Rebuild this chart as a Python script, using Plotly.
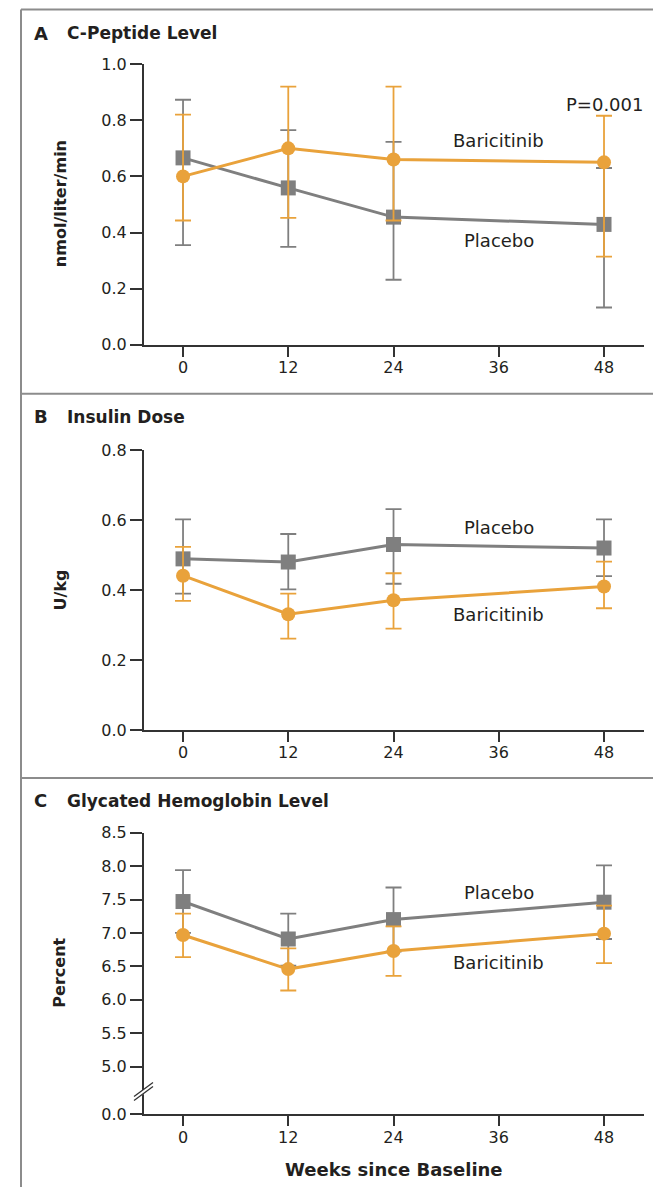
import plotly.graph_objects as go

# ---- data -------------------------------------------------------------
weeks = [0, 12, 24, 48]
x_ticks = [0, 12, 24, 36, 48]

# C-peptide level (nmol/liter/min)
cpep_bari = [0.60, 0.70, 0.66, 0.65]
cpep_bari_hi = [0.82, 0.92, 0.92, 0.816]
cpep_bari_lo = [0.443, 0.452, 0.443, 0.314]
cpep_plac = [0.666, 0.559, 0.455, 0.429]
cpep_plac_hi = [0.873, 0.765, 0.723, 0.63]
cpep_plac_lo = [0.355, 0.349, 0.232, 0.133]

# Insulin dose (U/kg)
ins_bari = [0.441, 0.331, 0.371, 0.41]
ins_bari_hi = [0.523, 0.39, 0.448, 0.481]
ins_bari_lo = [0.369, 0.261, 0.29, 0.348]
ins_plac = [0.489, 0.48, 0.53, 0.52]
ins_plac_hi = [0.602, 0.56, 0.631, 0.602]
ins_plac_lo = [0.39, 0.402, 0.418, 0.44]

# Glycated hemoglobin (percent)
hba_bari = [6.97, 6.46, 6.73, 6.99]
hba_bari_hi = [7.29, 6.77, 7.10, 7.41]
hba_bari_lo = [6.64, 6.14, 6.36, 6.55]
hba_plac = [7.47, 6.91, 7.20, 7.46]
hba_plac_hi = [7.94, 7.29, 7.68, 8.01]
hba_plac_lo = [7.00, 6.51, 6.72, 6.91]

cpep_ticks = [0.0, 0.2, 0.4, 0.6, 0.8, 1.0]
ins_ticks = [0.0, 0.2, 0.4, 0.6, 0.8]
# broken axis: the "0.0" label sits just below the break
hba_tickvals = [4.288, 5.0, 5.5, 6.0, 6.5, 7.0, 7.5, 8.0, 8.5]
hba_ticktext = ["0.0", "5.0", "5.5", "6.0", "6.5", "7.0", "7.5", "8.0", "8.5"]

p_value_text = "P=0.001"

# ---- styling ----------------------------------------------------------
W, H = 653, 1197
ORANGE = "#E9A23B"
GRAY = "#7F7F7F"
AXIS = "#333333"
TEXT = "#231F20"
FRAME = "#8C8C8C"
FONT = "DejaVu Sans"

# the page is shown with a small top inset and slight vertical shrink;
# layout positions below are given in on-screen pixels
Y_SCALE, Y_OFFSET = 0.986, 7.5


def px(x):
    return x / W


def py(y):
    return 1 - ((y - Y_OFFSET) / Y_SCALE) / H


fig = go.Figure()


def add_pair(xa, ya, plac, plac_hi, plac_lo, bari, bari_hi, bari_lo):
    for vals, hi, lo, color, symbol, name in [
        (plac, plac_hi, plac_lo, GRAY, "square", "Placebo"),
        (bari, bari_hi, bari_lo, ORANGE, "circle", "Baricitinib"),
    ]:
        fig.add_trace(go.Scatter(
            x=weeks, y=vals, xaxis=xa, yaxis=ya, name=name,
            mode="lines+markers",
            line=dict(color=color, width=3),
            marker=dict(color=color, size=15 if symbol == "square" else 14,
                        symbol=symbol),
            error_y=dict(type="data", symmetric=False,
                         array=[h - v for h, v in zip(hi, vals)],
                         arrayminus=[v - l for v, l in zip(vals, lo)],
                         color=color, thickness=1.8, width=8),
            cliponaxis=False, showlegend=False, hoverinfo="skip",
        ))


add_pair("x", "y", cpep_plac, cpep_plac_hi, cpep_plac_lo,
         cpep_bari, cpep_bari_hi, cpep_bari_lo)
add_pair("x2", "y2", ins_plac, ins_plac_hi, ins_plac_lo,
         ins_bari, ins_bari_hi, ins_bari_lo)
add_pair("x3", "y3", hba_plac, hba_plac_hi, hba_plac_lo,
         hba_bari, hba_bari_hi, hba_bari_lo)

x_domain = [px(144), px(644)]
x_range = [-4.45, 52.56]

xcommon = dict(
    domain=x_domain, range=x_range, tickvals=x_ticks,
    showline=True, linecolor=AXIS, linewidth=2,
    ticks="outside", ticklen=10, tickwidth=2, tickcolor=AXIS,
    ticklabelstandoff=-3,
    showgrid=False, zeroline=False,
    tickfont=dict(family=FONT, size=16, color=TEXT),
)
ycommon = dict(
    showline=True, linecolor=AXIS, linewidth=2,
    ticks="outside", ticklen=12, tickwidth=1.5, tickcolor=AXIS,
    showgrid=False, zeroline=False,
    tickfont=dict(family=FONT, size=16, color=TEXT),
)

fig.update_layout(
    width=W, height=H,
    margin=dict(l=0, r=0, t=0, b=0),
    paper_bgcolor="white", plot_bgcolor="white",
    font=dict(family=FONT, color=TEXT),
    xaxis=dict(xcommon, anchor="y"),
    xaxis2=dict(xcommon, anchor="y2"),
    xaxis3=dict(xcommon, anchor="y3"),
    yaxis=dict(ycommon, anchor="x", domain=[py(344), py(62.7)],
               range=[0, 1.0], tickvals=cpep_ticks,
               ticktext=[f"{v:.1f}" for v in cpep_ticks]),
    yaxis2=dict(ycommon, anchor="x2", domain=[py(730), py(449.3)],
                range=[0, 0.8], tickvals=ins_ticks,
                ticktext=[f"{v:.1f}" for v in ins_ticks]),
    yaxis3=dict(ycommon, anchor="x3", domain=[py(1115), py(832.7)],
                range=[4.288, 8.5], tickvals=hba_tickvals,
                ticktext=hba_ticktext),
)

# ---- frame around the panels -------------------------------------------
shapes = [
    dict(type="line", xref="paper", yref="paper",
         x0=px(21), x1=px(21), y0=min(1, py(8)), y1=0,
         line=dict(color=FRAME, width=2)),
    dict(type="line", xref="paper", yref="paper",
         x0=px(21), x1=1, y0=min(1, py(8)), y1=min(1, py(8)),
         line=dict(color=FRAME, width=2)),
    dict(type="line", xref="paper", yref="paper",
         x0=px(21), x1=1, y0=py(393), y1=py(393),
         line=dict(color=FRAME, width=2)),
    dict(type="line", xref="paper", yref="paper",
         x0=px(21), x1=1, y0=py(778), y1=py(778),
         line=dict(color=FRAME, width=2)),
    # axis break marks on panel C
    dict(type="line", xref="paper", yref="paper",
         x0=px(135), x1=px(153), y0=py(1098.5), y1=py(1085.5),
         line=dict(color="white", width=4)),
    dict(type="line", xref="paper", yref="paper",
         x0=px(134), x1=px(153), y0=py(1097), y1=py(1083),
         line=dict(color=AXIS, width=1.3)),
    dict(type="line", xref="paper", yref="paper",
         x0=px(134), x1=px(153), y0=py(1101), y1=py(1087),
         line=dict(color=AXIS, width=1.3)),
]
fig.update_layout(shapes=shapes)

# ---- text ---------------------------------------------------------------
ann = []


def panel_title(letter, title, y):
    ann.append(dict(text=f"<b>{letter}</b>", x=px(32), y=py(y), xref="paper",
                    yref="paper", xanchor="left", yanchor="middle",
                    showarrow=False, font=dict(size=18, color=TEXT)))
    ann.append(dict(text=f"<b>{title}</b>", x=px(65), y=py(y), xref="paper",
                    yref="paper", xanchor="left", yanchor="middle",
                    showarrow=False, font=dict(size=17, color=TEXT)))


def y_title(text, y):
    ann.append(dict(text=f"<b>{text}</b>", x=px(60), y=py(y), xref="paper",
                    yref="paper", xanchor="center", yanchor="middle",
                    textangle=-90, showarrow=False,
                    font=dict(size=16, color=TEXT)))


def series_label(text, xa, ya, xv, yv):
    ann.append(dict(text=text, x=xv, y=yv, xref=xa, yref=ya,
                    xanchor="center", yanchor="middle", showarrow=False,
                    font=dict(size=18, color=TEXT)))


panel_title("A", "C-Peptide Level", 32)
panel_title("B", "Insulin Dose", 416)
panel_title("C", "Glycated Hemoglobin Level", 801)

y_title("nmol/liter/min", 203)
y_title("U/kg", 590)
y_title("Percent", 973)

series_label("Baricitinib", "x", "y", 36, 0.729)
series_label("Placebo", "x", "y", 36, 0.373)
series_label(p_value_text, "x", "y", 48, 0.857)
series_label("Placebo", "x2", "y2", 36, 0.579)
series_label("Baricitinib", "x2", "y2", 36, 0.331)
series_label("Placebo", "x3", "y3", 36, 7.60)
series_label("Baricitinib", "x3", "y3", 36, 6.556)

ann.append(dict(text="<b>Weeks since Baseline</b>", x=24, y=py(1170),
                xref="x3", yref="paper", xanchor="center", yanchor="middle",
                showarrow=False, font=dict(size=18, color=TEXT)))

fig.update_layout(annotations=ann)

fig.write_html("out.html")
